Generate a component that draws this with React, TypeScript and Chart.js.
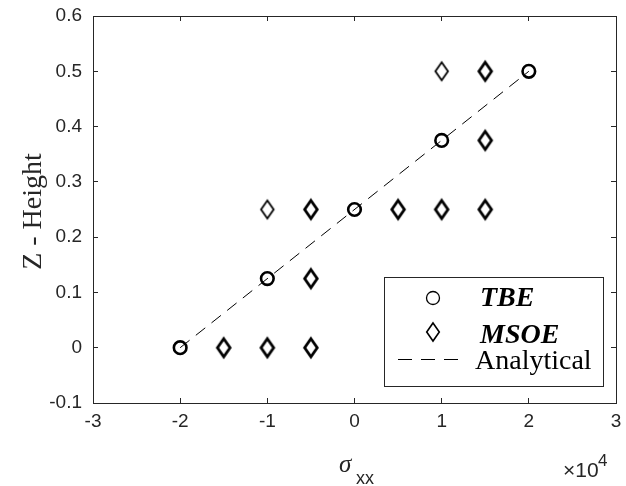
import React, { useEffect, useRef } from "react";
import { Chart, registerables } from "chart.js";

Chart.register(...registerables);

// ---- data (x in real units; axis shows ×10^4) ----
const tbeX = [-20000, -10000, 0, 10000, 20000];
const tbeZ = [0, 0.125, 0.25, 0.375, 0.5];

const msoeX = [-15000, -10000, -5000, -10000, -5000, 5000, 10000, 15000, -5000, 10000, 15000, 15000];
const msoeZ = [0, 0, 0, 0.25, 0.25, 0.25, 0.25, 0.25, 0.125, 0.5, 0.5, 0.375];
// how many coincident MSOE samples fall on each point (overlaps draw bolder)
const msoeCount = [2, 2, 2, 1, 2, 2, 2, 2, 2, 1, 2, 2];

const analyticX = [-20000, 20000];
const analyticZ = [0, 0.5];

const seriesLabels = ["TBE", "MSOE", "Analytical"];
const xLimits = [-30000, 30000];
const yLimits = [-0.1, 0.6];
const xStep = 10000;
const yStep = 0.1;
const xExponent = 4;
const yTitle = "Z - Height";
const xTitleMain = "σ";
const xTitleSub = "xx";

const AXIS_COLOR = "#262626";

function makeDiamond(lw: number): HTMLCanvasElement {
  const c = document.createElement("canvas");
  c.width = 22;
  c.height = 26;
  const g = c.getContext("2d")!;
  g.lineWidth = lw;
  g.strokeStyle = "#000";
  g.lineJoin = "miter";
  g.beginPath();
  g.moveTo(11, 13 - 9);
  g.lineTo(11 + 6.3, 13);
  g.lineTo(11, 13 + 9);
  g.lineTo(11 - 6.3, 13);
  g.closePath();
  g.stroke();
  return c;
}

const matlabPlugin = {
  id: "matlabDecor",
  afterDraw(chart: any) {
    const ctx = chart.ctx;
    const xs = chart.scales.x;
    const ys = chart.scales.y;
    const R = xs.right;
    const T = ys.top;
    const B = ys.bottom;
    ctx.save();
    ctx.setLineDash([]);

    // y title
    ctx.fillStyle = AXIS_COLOR;
    ctx.save();
    ctx.translate(41, (T + B) / 2 + 2);
    ctx.rotate(-Math.PI / 2);
    ctx.font = '28px "Liberation Serif"';
    ctx.textAlign = "center";
    ctx.textBaseline = "alphabetic";
    ctx.fillText(yTitle, 0, 0);
    ctx.restore();

    // x title sigma_xx
    ctx.textAlign = "left";
    ctx.textBaseline = "alphabetic";
    ctx.font = 'italic 25px "Liberation Serif"';
    ctx.fillText(xTitleMain, 339, 472);
    ctx.font = '18px "Liberation Sans"';
    ctx.fillText(xTitleSub, 356, 484);

    // exponent ×10^4
    ctx.font = '21px "Liberation Sans"';
    ctx.fillText("×10", R - 53, 477);
    ctx.font = '17px "Liberation Sans"';
    ctx.fillText(String(xExponent), R - 18, 466);

    // legend
    const bx = 384, by = 277, bw = 219, bh = 109;
    ctx.fillStyle = "#ffffff";
    ctx.fillRect(bx, by, bw, bh);
    ctx.strokeStyle = AXIS_COLOR;
    ctx.lineWidth = 1;
    ctx.strokeRect(bx + 0.5, by + 0.5, bw, bh);

    const ds = chart.data.datasets;
    ctx.strokeStyle = "#000";
    ctx.fillStyle = "#000";
    ctx.lineWidth = 1.3;
    ctx.beginPath();
    ctx.arc(433, 298, 6.5, 0, Math.PI * 2);
    ctx.stroke();
    ctx.font = 'italic bold 28px "Liberation Serif"';
    ctx.fillText(ds[0].label, 480, 306);
    ctx.drawImage(makeDiamond(1.6), 433 - 11, 332 - 13);
    ctx.fillText(ds[1].label, 480, 343);
    ctx.setLineDash([14, 9]);
    ctx.lineWidth = 1;
    ctx.beginPath();
    ctx.moveTo(398, 359.5);
    ctx.lineTo(459, 359.5);
    ctx.stroke();
    ctx.setLineDash([]);
    ctx.font = '28px "Liberation Serif"';
    ctx.fillText(ds[2].label, 475, 369);
    ctx.restore();
  },
};

const axisGrid = {
  display: true,
  drawOnChartArea: false,
  drawTicks: true,
  tickLength: -5,
  color: AXIS_COLOR,
  tickColor: AXIS_COLOR,
  lineWidth: 1,
  tickWidth: 1,
};
const axisBorder = { display: true, color: AXIS_COLOR, width: 1 };

function zeroPadding(s: any) {
  s.paddingTop = 0;
  s.paddingBottom = 0;
  s.paddingLeft = 0;
  s.paddingRight = 0;
}

export default function App() {
  const ref = useRef<HTMLCanvasElement | null>(null);
  useEffect(() => {
    document.body.style.margin = "0";
    const canvas = ref.current!;
    const thin = makeDiamond(1.8);
    const bold = makeDiamond(2.8);
    const chart = new Chart(canvas, {
      type: "scatter",
      data: {
        datasets: [
          {
            label: seriesLabels[0],
            data: tbeX.map((x, i) => ({ x, y: tbeZ[i] })),
            pointStyle: "circle",
            pointRadius: 6.3,
            pointBorderWidth: 2.6,
            pointBorderColor: "#000",
            pointBackgroundColor: "rgba(0,0,0,0)",
            showLine: false,
          },
          {
            label: seriesLabels[1],
            data: msoeX.map((x, i) => ({ x, y: msoeZ[i] })),
            pointStyle: (c: any) => (msoeCount[c.dataIndex] > 1 ? bold : thin),
            pointRadius: 9,
            pointBorderColor: "#000",
            pointBackgroundColor: "rgba(0,0,0,0)",
            showLine: false,
          },
          {
            label: seriesLabels[2],
            data: analyticX.map((x, i) => ({ x, y: analyticZ[i] })),
            showLine: true,
            borderColor: "#000",
            borderWidth: 1,
            borderDash: [12, 8],
            pointRadius: 0,
          },
        ],
      },
      options: {
        responsive: false,
        animation: false,
        layout: { padding: { top: 16, right: 6, left: 0, bottom: 0 } },
        plugins: { legend: { display: false }, tooltip: { enabled: false } },
        scales: {
          x: {
            type: "linear",
            position: "bottom",
            min: xLimits[0],
            max: xLimits[1],
            grid: axisGrid,
            border: axisBorder,
            ticks: {
              stepSize: xStep,
              padding: 12,
              color: AXIS_COLOR,
              font: { family: "Liberation Sans", size: 19 },
              maxRotation: 0,
              callback: (v: any) => String(Math.round(Number(v) / Math.pow(10, xExponent))),
            },
            afterFit: (s: any) => {
              s.height = 83;
              zeroPadding(s);
            },
          },
          x2: {
            type: "linear",
            position: "top",
            min: xLimits[0],
            max: xLimits[1],
            grid: axisGrid,
            border: axisBorder,
            ticks: { stepSize: xStep, display: false },
            afterFit: (s: any) => {
              s.height = 0;
              zeroPadding(s);
            },
          },
          y: {
            type: "linear",
            position: "left",
            min: yLimits[0],
            max: yLimits[1],
            grid: axisGrid,
            border: axisBorder,
            ticks: {
              stepSize: yStep,
              padding: 16,
              color: AXIS_COLOR,
              font: { family: "Liberation Sans", size: 19 },
              callback: (v: any) => String(Math.round(Number(v) * 10) / 10),
            },
            afterFit: (s: any) => {
              s.width = 93;
              zeroPadding(s);
            },
          },
          y2: {
            type: "linear",
            position: "right",
            min: yLimits[0],
            max: yLimits[1],
            grid: axisGrid,
            border: axisBorder,
            ticks: { stepSize: yStep, display: false },
            afterFit: (s: any) => {
              s.width = 0;
              zeroPadding(s);
            },
          },
        },
      },
      plugins: [matlabPlugin],
    } as any);
    return () => chart.destroy();
  }, []);
  return (
    <div style={{ width: 626, height: 486, background: "#fff" }}>
      <canvas ref={ref} width={626} height={486} style={{ display: "block" }} />
    </div>
  );
}
